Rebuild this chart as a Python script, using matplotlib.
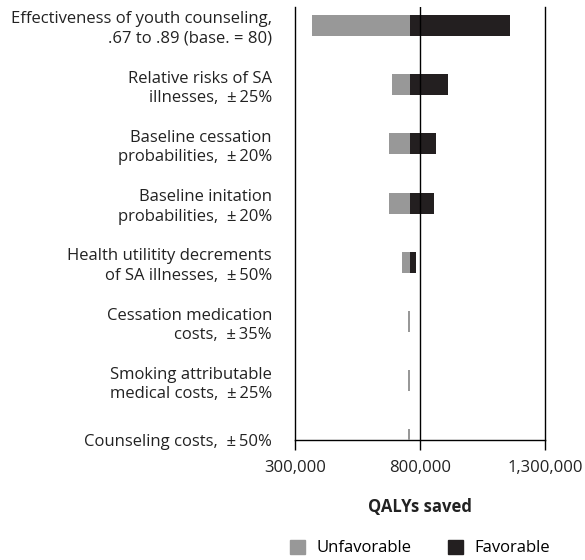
import matplotlib
matplotlib.use("Agg")
import matplotlib.pyplot as plt
from matplotlib.patches import Patch
from matplotlib.ticker import FuncFormatter

plt.rcParams['font.family'] = ['Open Sans', 'DejaVu Sans']

# tornado data (QALYs saved)
labels = [
    "Effectiveness of youth counseling,\n.67 to .89 (base. = 80)",
    "Relative risks of SA\nillnesses,  \u00b1\u200925%",
    "Baseline cessation\nprobabilities,  \u00b1\u200920%",
    "Baseline initation\nprobabilities,  \u00b1\u200920%",
    "Health utilitity decrements\nof SA illnesses,  \u00b1\u200950%",
    "Cessation medication\ncosts,  \u00b1\u200935%",
    "Smoking attributable\nmedical costs,  \u00b1\u200925%",
    "Counseling costs,  \u00b1\u200950%",
]
base = 760000
low = [368000, 687000, 678000, 678000, 727000, 753000, 753000, 753000]
high = [1158000, 913000, 865000, 857000, 782000, 760000, 760000, 760000]
xticks = [300000, 800000, 1300000]

grey = "#989898"
dark = "#231f20"

fig = plt.figure(figsize=(5.85, 5.6), dpi=100)
ax = fig.add_axes([0.504, 0.2143, 0.428, 0.7732])

ypos = list(range(len(labels) - 1, -1, -1))
for y, lo, hi in zip(ypos, low, high):
    ax.barh(y, base - lo, left=lo, height=0.355, color=grey, zorder=3)
    if hi > base:
        ax.barh(y, hi - base, left=base, height=0.355, color=dark, zorder=3)

ax.set_xlim(300000, 1300000)
ax.set_ylim(0, 7.31)
ax.set_yticks(ypos)
ax.set_yticklabels(labels, fontsize=12, color="#222222", linespacing=1.3)
ax.tick_params(axis='y', length=0, pad=16.5)
ax.set_xticks(xticks)
ax.xaxis.set_major_formatter(FuncFormatter(lambda v, p: f"{int(v):,}"))
ax.tick_params(axis='x', length=7.2, width=1, direction='out', pad=7,
               labelsize=12, labelcolor="#222222")
ax.axvline(800000, color="black", lw=1, zorder=4)
ax.spines['top'].set_visible(False)
for s in ['left', 'right', 'bottom']:
    ax.spines[s].set_linewidth(1)
ax.set_xlabel("QALYs saved", fontsize=12, fontweight='bold', labelpad=16,
              color="#222222")

handles = [Patch(color=grey, label="Unfavorable"), Patch(color=dark, label="Favorable")]
fig.legend(handles=handles, loc='center', bbox_to_anchor=(420 / 585, 1 - 548 / 560),
           ncol=2, frameon=False, fontsize=12, handlelength=0.9, handleheight=0.9,
           columnspacing=2.2, handletextpad=0.7)

fig.savefig("out.png", dpi=100)
